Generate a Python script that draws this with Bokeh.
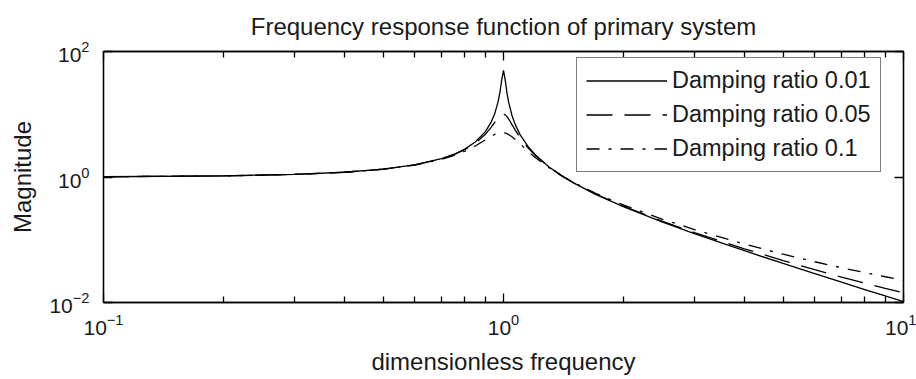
from bokeh.plotting import figure
from bokeh.models import Range1d, FixedTicker, LogAxis, Legend, LegendItem
from bokeh.embed import file_html
from bokeh.resources import INLINE

# dimensionless frequency (r)
freq = [0.1, 0.2, 0.3, 0.4, 0.5, 0.6, 0.7, 0.75, 0.8, 0.85, 0.9, 0.93, 0.95, 0.97,
        0.98, 0.99, 1.0, 1.01, 1.02, 1.03, 1.05, 1.07, 1.1, 1.15, 1.2, 1.3, 1.4,
        1.5, 1.7, 2.0, 2.5, 3.0, 4.0, 5.0, 6.0, 7.0, 8.0, 9.0, 10.0]

# magnitude, damping ratio 0.01
mag_001 = [1.010, 1.042, 1.099, 1.190, 1.333, 1.562, 1.961, 2.286, 2.778, 3.604,
           5.241, 7.333, 10.07, 16.08, 22.63, 35.62, 50.01, 35.09, 22.10, 15.56,
           9.558, 6.827, 4.736, 3.093, 2.269, 1.448, 1.041, 0.8001, 0.5293, 0.3336,
           0.1907, 0.1252, 0.06688, 0.04187, 0.02878, 0.02104, 0.01607, 0.01270, 0.01030]

# magnitude, damping ratio 0.05
mag_005 = [1.010, 1.042, 1.099, 1.190, 1.332, 1.559, 1.947, 2.259, 2.720, 3.458,
           4.776, 6.123, 7.379, 8.845, 9.506, 9.951, 10.05, 9.760, 9.162, 8.401,
           6.852, 5.583, 4.244, 2.940, 2.208, 1.436, 1.041, 0.8032, 0.5345, 0.3392,
           0.1961, 0.1304, 0.07178, 0.04658, 0.03332, 0.02543, 0.02033, 0.01682, 0.01428]

# magnitude, damping ratio 0.1
mag_01 = [1.010, 1.042, 1.099, 1.189, 1.328, 1.547, 1.909, 2.186, 2.571, 3.117,
          3.882, 4.425, 4.766, 5.023, 5.096, 5.123, 5.099, 5.026, 4.908, 4.753,
          4.373, 3.957, 3.367, 2.590, 2.052, 1.401, 1.039, 0.8122, 0.5500, 0.3559,
          0.2120, 0.1454, 0.08525, 0.05888, 0.04460, 0.03583, 0.02994, 0.02573, 0.02258]

series_labels = ["Damping ratio 0.01", "Damping ratio 0.05", "Damping ratio 0.1"]
title_text = "Frequency response function of primary system"

x_major = [0.1, 1.0, 10.0]
x_minor = [0.2, 0.3, 0.4, 0.5, 0.6, 0.7, 0.8, 0.9, 2, 3, 4, 5, 6, 7, 8, 9]
y_major = [0.01, 1.0, 100.0]

FONT = "Liberation Sans"
FS = "24px"
TXT = "#1a1a1a"

p = figure(width=916, height=379, x_axis_type="log", y_axis_type="log",
           x_range=Range1d(0.1, 10), y_range=Range1d(0.01, 100),
           output_backend="svg", toolbar_location=None,
           min_border_left=103, min_border_right=13, min_border_top=51, min_border_bottom=77,
           title=title_text)

p.background_fill_color = "white"
p.border_fill_color = "white"
p.outline_line_color = "black"
p.outline_line_width = 1.3
p.grid.visible = False

p.title.text_font = FONT
p.title.text_font_size = FS
p.title.text_font_style = "normal"
p.title.text_color = TXT
p.title.align = "center"
p.title.vertical_align = "top"
p.title.standoff = 20

def style_axis(ax, ticks, minor, labels=True):
    ax.ticker = FixedTicker(ticks=ticks, minor_ticks=minor)
    ax.axis_line_color = "black"
    ax.axis_line_width = 1.3
    ax.major_tick_in = 9
    ax.major_tick_out = 0
    ax.minor_tick_in = 6
    ax.minor_tick_out = 0
    ax.major_tick_line_color = "black"
    ax.minor_tick_line_color = "black"
    ax.major_tick_line_width = 1.3
    ax.minor_tick_line_width = 1.3
    ax.major_label_text_font = FONT
    ax.major_label_text_font_size = "21px"
    ax.major_label_text_color = TXT
    ax.axis_label_text_font = FONT
    ax.axis_label_text_font_size = FS
    ax.axis_label_text_font_style = "normal"
    ax.axis_label_text_color = TXT
    if not labels:
        ax.major_label_overrides = {t: "" for t in ticks}
        ax.major_label_standoff = 0

style_axis(p.xaxis[0], x_major, x_minor)
style_axis(p.yaxis[0], y_major, [])
p.xaxis[0].axis_label = "dimensionless frequency"
p.yaxis[0].axis_label = "Magnitude"
p.xaxis[0].major_label_standoff = 11
p.xaxis[0].axis_label_standoff = 10
p.yaxis[0].major_label_standoff = 14
p.yaxis[0].axis_label_standoff = 10

top_ax = LogAxis()
style_axis(top_ax, x_major, x_minor, labels=False)
p.add_layout(top_ax, "above")
right_ax = LogAxis()
style_axis(right_ax, y_major, [], labels=False)
p.add_layout(right_ax, "right")

r1 = p.line(freq, mag_001, line_color="black", line_width=1.3)
r2 = p.line(freq, mag_005, line_color="black", line_width=1.3, line_dash="26 12")
r3 = p.line(freq, mag_01, line_color="black", line_width=1.3, line_dash="13 9 3 9")

legend = Legend(items=[LegendItem(label=series_labels[0], renderers=[r1]),
                       LegendItem(label=series_labels[1], renderers=[r2]),
                       LegendItem(label=series_labels[2], renderers=[r3])],
                location=(473, 130))
legend.border_line_color = "black"
legend.border_line_width = 1.3
legend.background_fill_color = "white"
legend.background_fill_alpha = 1.0
legend.label_text_font = FONT
legend.label_text_font_size = "23.5px"
legend.label_text_color = TXT
legend.glyph_width = 81
legend.glyph_height = 25
legend.label_height = 25
legend.label_standoff = 5
legend.spacing = 7
legend.padding = 9
legend.margin = 0
p.add_layout(legend, "center")

open("out.html", "w").write(file_html(p, INLINE))
